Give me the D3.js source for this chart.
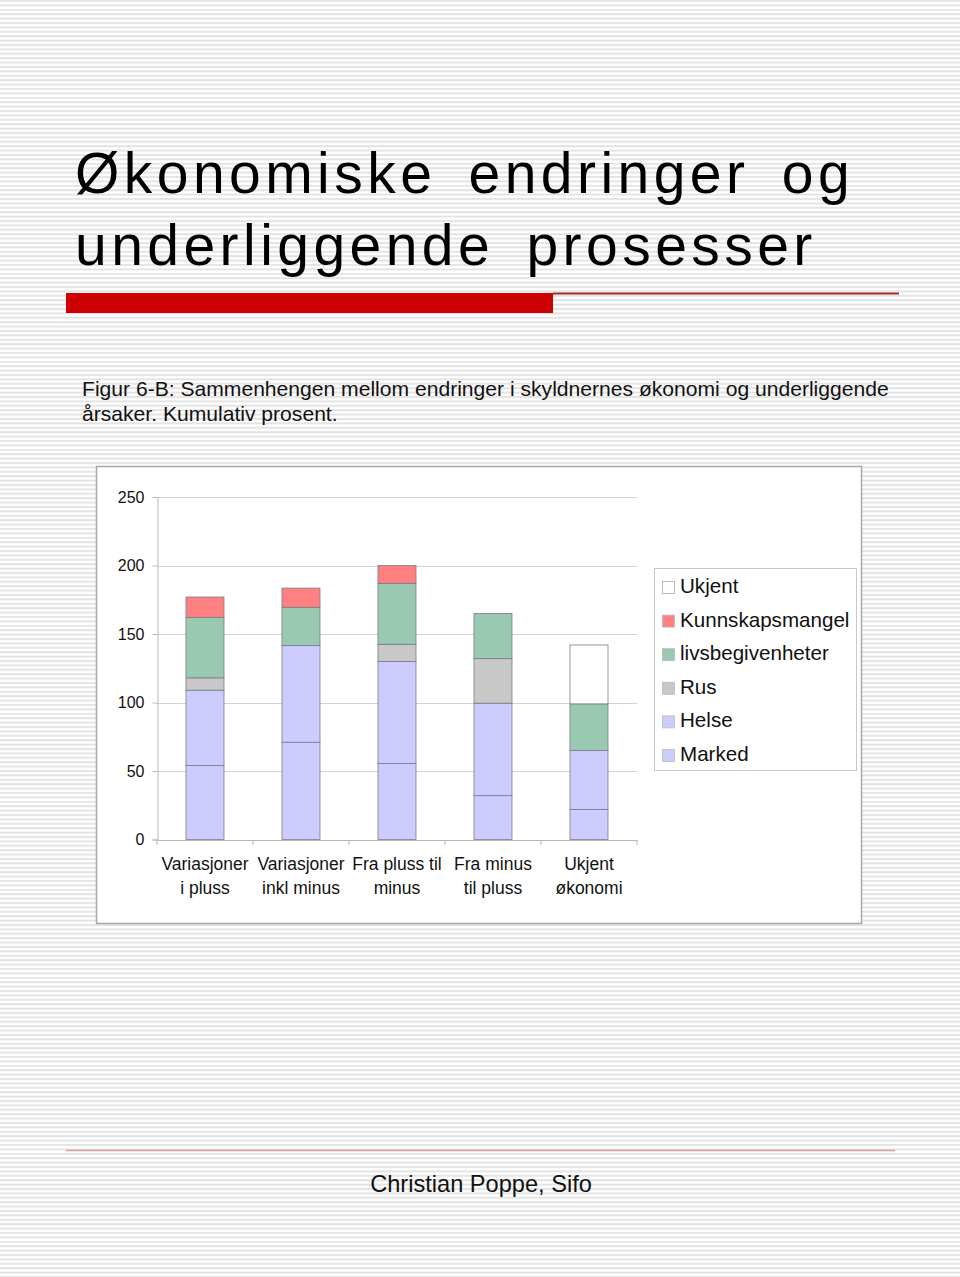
<!DOCTYPE html>
<html><head><meta charset="utf-8">
<script src="https://cdn.jsdelivr.net/npm/d3@7/dist/d3.min.js"></script>
<style>
html,body{margin:0;padding:0;background:#fff;}
svg{display:block;font-family:"Liberation Sans",Arial,Helvetica,sans-serif;}
</style></head>
<body>
<svg id="c" width="960" height="1277"></svg>
<script>
// ---- data ----
const categories = [["Variasjoner","i pluss"],["Variasjoner","inkl minus"],["Fra pluss til","minus"],["Fra minus","til pluss"],["Ukjent","økonomi"]];
const seriesNames = ["Marked","Helse","Rus","livsbegivenheter","Kunnskapsmangel","Ukjent"];
const marked = [54, 71, 55.5, 32, 22];
const helse = [55, 70.5, 74.5, 67.5, 43];
const rus = [9, 0, 12.5, 32.5, 0];
const livsbegivenheter = [44, 28, 44.5, 33, 34];
const kunnskapsmangel = [15, 14, 13, 0, 0];
const ukjent = [0, 0, 0, 0, 43];
const yTicks = [0, 50, 100, 150, 200, 250];
const colors = {"Marked":"#ccccff","Helse":"#ccccff","Rus":"#c8c8c8","livsbegivenheter":"#99c9b0","Kunnskapsmangel":"#ff8080","Ukjent":"#ffffff"};
const legendOrder = ["Ukjent","Kunnskapsmangel","livsbegivenheter","Rus","Helse","Marked"];

const rows = categories.map((c,i)=>({cat:i, "Marked":marked[i],"Helse":helse[i],"Rus":rus[i],"livsbegivenheter":livsbegivenheter[i],"Kunnskapsmangel":kunnskapsmangel[i],"Ukjent":ukjent[i]}));

const svg = d3.select("#c");
// background stripes
const defs = svg.append("defs");
const pat = defs.append("pattern").attr("id","stripes").attr("patternUnits","userSpaceOnUse").attr("width",960).attr("height",4.4);
pat.append("rect").attr("width",960).attr("height",4.4).attr("fill","#ffffff");
pat.append("rect").attr("width",960).attr("height",2).attr("fill","#e3e3e3");
svg.append("rect").attr("width",960).attr("height",1277).attr("fill","url(#stripes)");

// title
const title = svg.append("text").attr("x",75).attr("font-size",57).attr("letter-spacing","4.45px").attr("word-spacing","12px").attr("fill","#000");
title.append("tspan").attr("x",75).attr("y",193).text("Økonomiske endringer og");
title.append("tspan").attr("x",75).attr("y",265).text("underliggende prosesser");

// red bar + line
svg.append("rect").attr("x",66).attr("y",293).attr("width",487).attr("height",20).attr("fill","#cc0000");
svg.append("line").attr("x1",553).attr("x2",899).attr("y1",293.5).attr("y2",293.5).attr("stroke","#a02c2c").attr("stroke-width",2);

// subtitle
const sub = svg.append("text").attr("font-size",21.1).attr("fill","#111");
sub.append("tspan").attr("x",82).attr("y",396).text("Figur 6-B: Sammenhengen mellom endringer i skyldnernes økonomi og underliggende");
sub.append("tspan").attr("x",82).attr("y",421).text("årsaker. Kumulativ prosent.");

// chart box
svg.append("rect").attr("x",96.5).attr("y",466.5).attr("width",765).attr("height",457).attr("fill","#fff").attr("stroke","#a8a8a8").attr("stroke-width",1.5);

// scales
const xOuter = d3.scaleBand().domain(d3.range(categories.length)).range([157,637]);
const y = d3.scaleLinear().domain([0,250]).range([839.5,497]);

// gridlines
svg.append("g").selectAll("line").data(yTicks.filter(t=>t>0)).join("line")
  .attr("x1",157).attr("x2",637).attr("y1",d=>Math.round(y(d))+0.5).attr("y2",d=>Math.round(y(d))+0.5)
  .attr("stroke","#d4d4d4").attr("stroke-width",1);

// y axis
const yAxis = svg.append("g").attr("transform","translate(157.5,0)")
  .call(d3.axisLeft(y).tickValues(yTicks).tickSize(5).tickPadding(8).tickFormat(d3.format("d")));
yAxis.select(".domain").attr("stroke","#b8b8b8");
yAxis.selectAll(".tick line").attr("stroke","#b8b8b8");
yAxis.selectAll("text").attr("font-size",16).attr("fill","#111").attr("font-family","Liberation Sans, Arial, sans-serif");

// x axis
const xAxis = svg.append("g").attr("transform","translate(0,840)")
  .call(d3.axisBottom(xOuter).tickSize(0).tickFormat(""));
xAxis.select(".domain").attr("stroke","#b8b8b8");
svg.append("g").selectAll("line").data(d3.range(categories.length+1)).join("line")
  .attr("x1",d=>157+d*xOuter.bandwidth()).attr("x2",d=>157+d*xOuter.bandwidth())
  .attr("y1",840).attr("y2",845).attr("stroke","#b8b8b8");

// x labels
const xl = svg.append("g").selectAll("text").data(categories).join("text")
  .attr("text-anchor","middle").attr("font-size",17.5).attr("fill","#111");
xl.each(function(d,i){
  const t = d3.select(this);
  const cx = xOuter(i)+xOuter.bandwidth()/2;
  t.append("tspan").attr("x",cx).attr("y",870).text(d[0]);
  t.append("tspan").attr("x",cx).attr("y",894).text(d[1]);
});

// bars
const stack = d3.stack().keys(seriesNames)(rows);
const bw = 38;
svg.append("g").selectAll("g").data(stack).join("g")
  .attr("fill",s=>colors[s.key])
  .selectAll("rect").data(s=>s.filter(d=>d[1]-d[0]>0)).join("rect")
  .attr("x",d=>xOuter(d.data.cat)+xOuter.bandwidth()/2-bw/2)
  .attr("width",bw)
  .attr("y",d=>y(d[1]))
  .attr("height",d=>y(d[0])-y(d[1]))
  .attr("stroke","#7a7a8a").attr("stroke-width",0.8);

// legend
const lg = svg.append("g");
lg.append("rect").attr("x",654.5).attr("y",568.5).attr("width",202).attr("height",202).attr("fill","#fff").attr("stroke","#c8c8c8");
const li = lg.selectAll("g.li").data(legendOrder).join("g").attr("class","li")
  .attr("transform",(d,i)=>`translate(0,${586+i*33.6})`);
li.append("rect").attr("x",662.5).attr("y",-4.5).attr("width",12).attr("height",12)
  .attr("fill",d=>colors[d]).attr("stroke",d=>d==="Ukjent"?"#aaa":"#bbb").attr("stroke-width",0.8);
li.append("text").attr("x",680).attr("y",7).attr("font-size",20.6).attr("fill","#111").text(d=>d);

// footer
svg.append("line").attr("x1",66).attr("x2",895).attr("y1",1150.5).attr("y2",1150.5).attr("stroke","#d49a9a").attr("stroke-width",1.5);
svg.append("text").attr("x",481).attr("y",1192).attr("text-anchor","middle").attr("font-size",23.6).attr("fill","#111").text("Christian Poppe, Sifo");
</script>
</body></html>
